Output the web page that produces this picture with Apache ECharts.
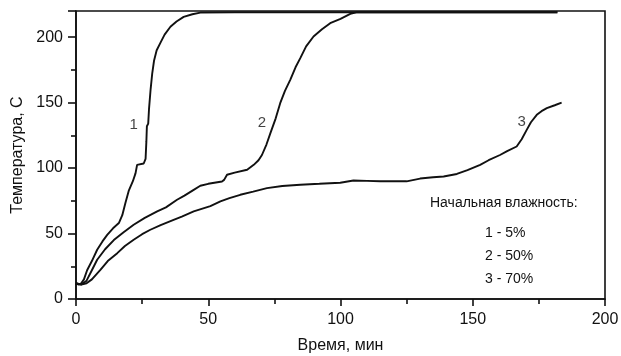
<!DOCTYPE html>
<html>
<head>
<meta charset="utf-8">
<script src="https://cdn.jsdelivr.net/npm/echarts@6/dist/echarts.min.js"></script>
<style>
html,body{margin:0;padding:0;background:#fff;}
#chart{width:621px;height:356px;}
</style>
</head>
<body>
<div id="chart"></div>
<script>
// кривая 1 - 5%
var time1 = [0,1,2,3,4.2,6,8,10,11.8,14,16.2,17.5,18.7,20,21.5,22.5,23.1,25.6,26.3,26.6,26.8,27.3,27.6,28.2,28.8,29.5,30.5,31.9,33.5,35.7,38,40.7,44,47,60,182];
var temp1 = [12,11,12,15,22,29,37.6,44,49,54,58,64,73.5,83,90,96,102.5,103.5,107,120,132,134,145,160,172,182,190,195.6,202,208,212,215.5,217.5,218.8,219,219];
// кривая 2 - 50%
var time2 = [0,2,4,6,8,11,14.3,18,21.8,26,30.7,34,38.2,41,44.5,47,50,55.2,56,57.1,60,64.7,67.2,69,70.3,72,73.5,75.5,77.2,79,81,83,84.8,87,89.8,93,96.1,100,103.7,106,182];
var temp2 = [12,11,14,22,30,38,45,51,56.7,62,66.9,70,75.8,79,83.4,86.5,88,89.8,91,94.9,96.5,98.7,102.5,106,110,118,126.7,138,149.6,159,167.4,177,184,193,200.5,206,210.7,214,217.8,219,219];
// кривая 3 - 70%
var time3 = [0,2,4,6,9.3,12,15.6,18.5,21.8,25,28.1,32,36.9,40,44.5,50.8,54.6,58,62.1,67,72.2,78,84.8,92,99.9,104.9,110,115,125,130.1,135,139,144,148,152.8,156,160.3,163,166.6,168.5,170.4,172,174.2,176,178,181,183.6];
var temp3 = [12,11,12,15,22.4,29,35,40.5,45.3,49.5,52.9,56.5,60.5,63,66.9,71,74.5,77,79.6,82,84.7,86.3,87.3,88,88.8,90.5,90.2,89.9,89.9,92,93,93.6,95.5,98.5,102.5,106,110,113,116.5,122,129.2,135,140.7,143.5,145.8,148,150];

var curveNames = ['1','2','3'];
var labelTime = [21.8,70.3,168.5];
var labelTemp = [133,134.3,135.6];

var legendTitle = 'Начальная влажность:';
var legendRows = ['1 - 5%','2 - 50%','3 - 70%'];

var xTicks = [0,50,100,150,200];
var yTicks = [0,50,100,150,200];

function pairs(xs, ys){
	var out = [];
	for(var i=0;i<xs.length;i++){ out.push([xs[i], ys[i]]); }
	return out;
}

var font = '"Liberation Sans", Arial, sans-serif';
var ink = '#111';
var chart = echarts.init(document.getElementById('chart'));

var lineSeries = [[time1,temp1],[time2,temp2],[time3,temp3]].map(function(c, i){
	return {
		name: curveNames[i],
		type: 'line',
		data: pairs(c[0], c[1]),
		showSymbol: false,
		smooth: false,
		lineStyle: {color: ink, width: 1.9},
		z: 3
	};
});

var labelData = curveNames.map(function(n, i){
	return {value: [labelTime[i], labelTemp[i]], name: n};
});

var legendGraphics = [{
	type: 'text', left: 430, top: 196,
	style: {text: legendTitle, font: '14px ' + font, fill: ink}
}];
legendRows.forEach(function(t, i){
	legendGraphics.push({
		type: 'text', left: 485, top: 226 + i*23,
		style: {text: t, font: '14px ' + font, fill: ink}
	});
});

var option = {
	animation: false,
	backgroundColor: '#fff',
	grid: {left: 76, right: 16, top: 11, bottom: 57, outerBoundsMode: 'none', containLabel: false,
		show: true, borderColor: ink, borderWidth: 1.6, backgroundColor: 'transparent'},
	xAxis: {
		type: 'value', min: 0, max: 200, interval: 50,
		name: 'Время, мин', nameLocation: 'middle', nameGap: 39,
		nameTextStyle: {fontSize: 16, color: ink, fontFamily: font},
		axisLine: {lineStyle: {color: ink, width: 1.6}},
		axisTick: {length: 7, lineStyle: {color: ink, width: 1.6}},
		minorTick: {show: true, splitNumber: 2, length: 5, lineStyle: {color: ink, width: 1.6}},
		axisLabel: {fontSize: 16, color: ink, fontFamily: font, margin: 13,
			formatter: function(v){ return xTicks.indexOf(v) >= 0 ? String(v) : ''; }},
		splitLine: {show: false}
	},
	yAxis: {
		type: 'value', min: 0, max: 220, interval: 50,
		name: 'Температура, С', nameLocation: 'middle', nameGap: 41,
		nameTextStyle: {fontSize: 16, color: ink, fontFamily: font},
		axisLine: {lineStyle: {color: ink, width: 1.6}},
		axisTick: {length: 8, lineStyle: {color: ink, width: 1.6}},
		minorTick: {show: true, splitNumber: 2, length: 5, lineStyle: {color: ink, width: 1.6}},
		axisLabel: {fontSize: 16, color: ink, fontFamily: font, margin: 13, showMaxLabel: false,
			formatter: function(v){ return yTicks.indexOf(v) >= 0 ? String(v) : ''; }},
		splitLine: {show: false}
	},
	series: lineSeries.concat([{
		type: 'scatter',
		data: labelData,
		symbolSize: 0,
		label: {show: true, position: 'inside', formatter: '{b}', fontSize: 15, color: ink, fontFamily: font},
		z: 4
	}]),
	graphic: legendGraphics
};
chart.setOption(option);
</script>
</body>
</html>
